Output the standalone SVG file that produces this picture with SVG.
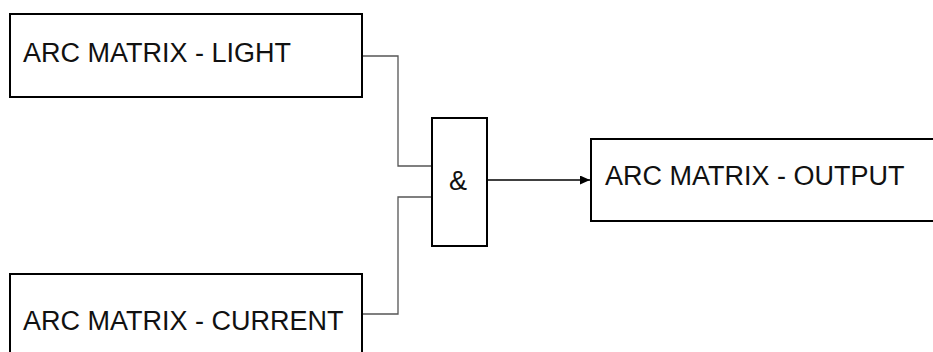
<svg xmlns="http://www.w3.org/2000/svg" width="933" height="352" viewBox="0 0 933 352">
  <style>
    .box { fill: #ffffff; stroke: #000000; stroke-width: 2; }
    .label { font-family: "Liberation Sans", Arial, sans-serif; font-size: 27px; fill: #111111; }
    .wire { fill: none; stroke: #555555; stroke-width: 1.3; }
  </style>
  <defs>
    <marker id="arrow" markerWidth="10" markerHeight="9" refX="10" refY="4.5" orient="auto" markerUnits="userSpaceOnUse">
      <path d="M0,0 L10,4.5 L0,9 Z" fill="#000000"/>
    </marker>
  </defs>
  <rect width="933" height="352" fill="#ffffff"/>

  <g id="connectors">
    <polyline class="wire" points="362,56 398,56 398,166 432,166"/>
    <polyline class="wire" points="362,314 398,314 398,197 432,197"/>
    <line x1="487" y1="180" x2="590" y2="180" stroke="#000000" stroke-width="1.3" marker-end="url(#arrow)"/>
  </g>

  <g id="node-light">
    <rect class="box" x="10" y="14" width="352" height="83"/>
    <text class="label" x="23" y="62">ARC MATRIX - LIGHT</text>
  </g>

  <g id="node-current">
    <rect class="box" x="10" y="274" width="352" height="84"/>
    <text class="label" x="23" y="330">ARC MATRIX - CURRENT</text>
  </g>

  <g id="node-and">
    <rect class="box" x="432" y="118" width="55" height="128"/>
    <text class="label" x="458" y="190" text-anchor="middle" font-size="26">&amp;</text>
  </g>

  <g id="node-output">
    <rect class="box" x="591" y="139" width="345" height="82"/>
    <text class="label" x="605" y="185">ARC MATRIX - OUTPUT</text>
  </g>
</svg>
